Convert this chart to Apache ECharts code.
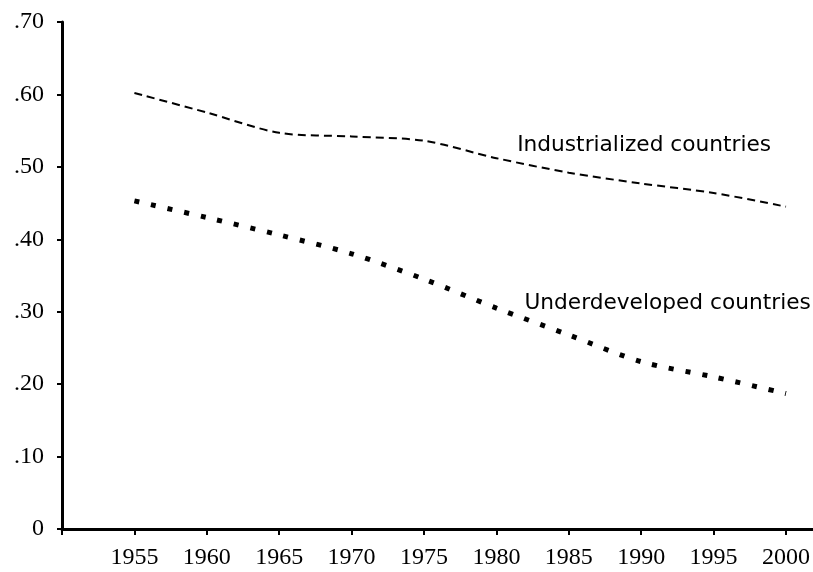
<!DOCTYPE html>
<html>
<head>
<meta charset="utf-8">
<script src="https://cdn.jsdelivr.net/npm/echarts@6/dist/echarts.min.js"></script>
<style>
  html, body { margin: 0; padding: 0; background: #fff; }
  #chart { width: 813px; height: 572px; }
</style>
</head>
<body>
<div id="chart"></div>
<script>
// values
var years = [1955, 1960, 1965, 1970, 1975, 1980, 1985, 1990, 1995, 2000];
var industrialized = [0.602, 0.575, 0.547, 0.542, 0.536, 0.512, 0.492, 0.477, 0.464, 0.445];
var underdeveloped = [0.453, 0.430, 0.406, 0.380, 0.345, 0.305, 0.268, 0.231, 0.210, 0.187];
var yTicks = [0, 0.1, 0.2, 0.3, 0.4, 0.5, 0.6, 0.7];

function pairs(vals) {
  var out = [];
  for (var i = 0; i < years.length; i++) out.push([years[i], vals[i]]);
  return out;
}

var serif = '"Liberation Serif", "DejaVu Serif", serif';
var sans = '"DejaVu Sans", "Liberation Sans", sans-serif';

var option = {
  backgroundColor: '#fff',
  animation: false,
  grid: [
    { left: 62, right: 26, top: 22, bottom: 43 },
    { left: 62, right: 0, top: 22, bottom: 43 }
  ],
  xAxis: [
    {
      type: 'value', gridIndex: 0,
      min: 1950, max: 2000, interval: 5,
      axisLine: { show: false },
      axisTick: { show: true, inside: false, length: 6, lineStyle: { color: '#000', width: 2 } },
      axisLabel: {
        color: '#000', fontFamily: serif, fontSize: 24, margin: 17,
        formatter: function (v) { return v === 1950 ? '' : String(v); }
      },
      splitLine: { show: false }
    },
    {
      type: 'value', gridIndex: 1, min: 0, max: 1,
      axisLine: { show: true, lineStyle: { color: '#000', width: 3 } },
      axisTick: { show: false }, axisLabel: { show: false }, splitLine: { show: false }
    }
  ],
  yAxis: [
    {
      type: 'value', gridIndex: 0,
      min: yTicks[0], max: yTicks[yTicks.length - 1], interval: 0.1,
      axisLine: { show: true, lineStyle: { color: '#000', width: 3 } },
      axisTick: { show: true, length: 5, lineStyle: { color: '#000', width: 2 } },
      axisLabel: {
        color: '#000', fontFamily: serif, fontSize: 24, margin: 18,
        formatter: function (v) {
          if (v === 0) return '0';
          return '.' + Math.round(v * 100);
        }
      },
      splitLine: { show: false }
    },
    {
      type: 'value', gridIndex: 1, min: 0, max: 1, show: false
    }
  ],
  series: [
    {
      name: 'Industrialized countries',
      type: 'line', xAxisIndex: 0, yAxisIndex: 0,
      data: pairs(industrialized),
      smooth: 0.3, showSymbol: false,
      lineStyle: { color: '#000', width: 2, type: [8, 5] },
      markPoint: {
        symbol: 'rect', symbolSize: 1, itemStyle: { color: 'transparent' },
        label: { show: true, position: 'right', distance: 0, color: '#000', fontFamily: sans, fontSize: 21.7, formatter: '{b}' },
        data: [{ name: 'Industrialized countries', coord: [1981.4, 0.529] }]
      }
    },
    {
      name: 'Underdeveloped countries',
      type: 'line', xAxisIndex: 0, yAxisIndex: 0,
      data: pairs(underdeveloped),
      smooth: 0.3, showSymbol: false,
      lineStyle: { color: '#000', width: 5, type: [5, 12], cap: 'butt' },
      markPoint: {
        symbol: 'rect', symbolSize: 1, itemStyle: { color: 'transparent' },
        label: { show: true, position: 'right', distance: 0, color: '#000', fontFamily: sans, fontSize: 21.7, formatter: '{b}' },
        data: [{ name: 'Underdeveloped countries', coord: [1981.9, 0.311] }]
      }
    }
  ]
};

var chart = echarts.init(document.getElementById('chart'));
chart.setOption(option);
</script>
</body>
</html>
